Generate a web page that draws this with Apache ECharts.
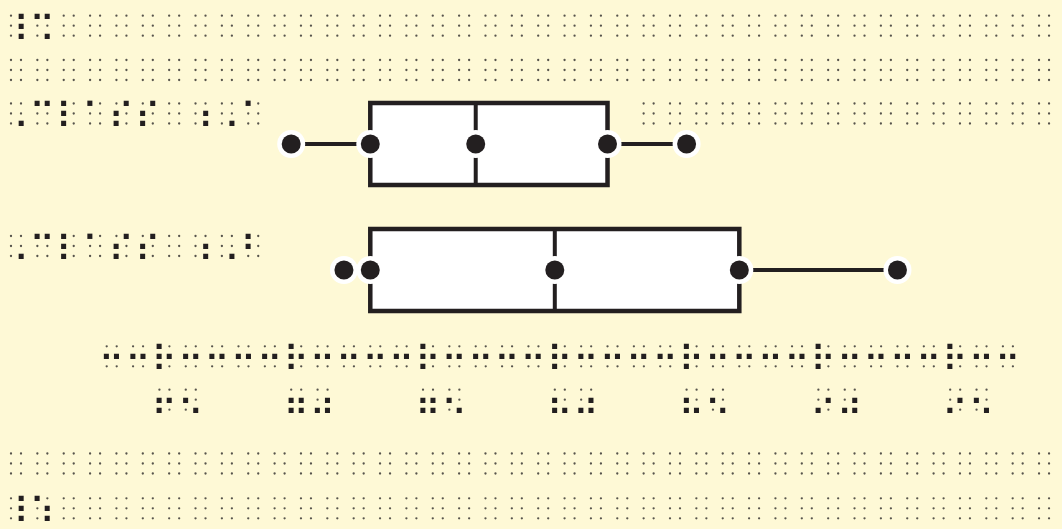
<!DOCTYPE html>
<html>
<head>
<meta charset="utf-8">
<script src="https://cdn.jsdelivr.net/npm/echarts/dist/echarts.min.js"></script>
<style>
html, body { margin: 0; padding: 0; background: #fef9d6; }
#main { width: 1062px; height: 529px; }
</style>
</head>
<body>
<div id="main"></div>
<script>
// braille text as in the reference (UEB labels, Nemeth numbers)
var classNames = ['⠠⠉⠇⠁⠎⠎⠀⠰⠠⠁', '⠠⠉⠇⠁⠎⠎⠀⠰⠠⠃'];
// five number summary: min, Q1, median, Q3, max
var classA = [70, 73, 77, 82, 85];
var classB = [72, 73, 80, 87, 93];
var tickValues = [65, 70, 75, 80, 85, 90, 95];
var tickLabels = ['⠖⠢', '⠶⠴', '⠶⠢', '⠦⠴', '⠦⠢', '⠔⠴', '⠔⠢'];
var topLine = '⠸⠩';
var bottomLine = '⠸⠱';

var PITCH = 26.36;   // braille cell width
var DOT = 10;        // dot spacing inside a cell
var INK = '#231f20';
var FAINT = '#57544c';

var chart = echarts.init(document.getElementById('main'));

chart.setOption({
  backgroundColor: '#fef9d6',
  animation: false,
  grid: { left: 106.7, right: 59.1, top: 81, height: 252 },
  xAxis: { type: 'value', min: 63, max: 97, show: false },
  yAxis: { type: 'category', data: classNames, inverse: true, show: false },
  series: [{
    type: 'custom',
    data: [[0].concat(classA), [1].concat(classB)],
    encode: { x: [1, 2, 3, 4, 5], y: 0 },
    renderItem: function (params, api) {
      var cat = api.value(0);
      var xs = [1, 2, 3, 4, 5].map(function (i) {
        return api.coord([api.value(i), cat])[0];
      });
      var cy = api.coord([api.value(1), cat])[1];
      var half = api.size([0, 1])[1] * 0.325;
      var kids = [
        { type: 'line', shape: { x1: xs[0], y1: cy, x2: xs[1], y2: cy }, style: { stroke: INK, lineWidth: 4 } },
        { type: 'line', shape: { x1: xs[3], y1: cy, x2: xs[4], y2: cy }, style: { stroke: INK, lineWidth: 4 } },
        { type: 'rect', shape: { x: xs[1], y: cy - half, width: xs[3] - xs[1], height: half * 2 },
          style: { fill: '#fff', stroke: INK, lineWidth: 4.5 } },
        { type: 'line', shape: { x1: xs[2], y1: cy - half, x2: xs[2], y2: cy + half }, style: { stroke: INK, lineWidth: 4 } }
      ];
      xs.forEach(function (x) {
        kids.push({ type: 'circle', shape: { cx: x, cy: cy, r: 14 }, style: { fill: '#fff' } });
      });
      xs.forEach(function (x) {
        kids.push({ type: 'circle', shape: { cx: x, cy: cy, r: 9.5 }, style: { fill: INK } });
      });
      return { type: 'group', children: kids };
    }
  }]
});

// measure where DejaVu Sans puts the braille dots so the glyphs sit on the cell grid
var glyph = (function () {
  var S = 100;
  var ctx = document.createElement('canvas').getContext('2d');
  ctx.font = S + 'px "DejaVu Sans"';
  ctx.textAlign = 'left';
  ctx.textBaseline = 'middle';
  function bb(ch) {
    var m = ctx.measureText(ch);
    return { l: -m.actualBoundingBoxLeft, r: m.actualBoundingBoxRight,
             t: -m.actualBoundingBoxAscent, b: m.actualBoundingBoxDescent };
  }
  var one = bb('⠁'), full = bb('⠿');
  var d = one.r - one.l;
  var hs = (full.r - full.l) - d;                      // column to column
  var vs = ((full.b - full.t) - (one.b - one.t)) / 2;  // row to row
  if (!(hs > 0 && vs > 0)) {
    return { size: 40, sx: 1, ox: 0, oy: -12, lw: 0 };
  }
  var k = DOT / vs;
  var sx = DOT / (hs * k);
  var dotNow = d * k;
  return {
    size: S * k,
    sx: sx,
    ox: (one.l + one.r) / 2 * k * sx,
    oy: (one.t + one.b) / 2 * k,
    lw: Math.max(0, 5.6 - dotNow)
  };
})();

function addCell(out, x, y, ch) {
  var bits = ch.charCodeAt(0) - 0x2800;
  for (var d = 0; d < 6; d++) {
    if (bits & (1 << d)) continue;
    out.push({ type: 'circle', silent: true,
      shape: { cx: x + (d >= 3 ? DOT : 0), cy: y + (d % 3) * DOT, r: 1.15 },
      style: { fill: FAINT } });
  }
  if (bits) {
    out.push({ type: 'text', silent: true, z: 10,
      x: x - glyph.ox, y: y - glyph.oy, scaleX: glyph.sx,
      style: { text: ch, fill: INK, stroke: INK, lineWidth: glyph.lw, lineJoin: 'round',
        font: glyph.size.toFixed(2) + 'px "DejaVu Sans"',
        align: 'left', verticalAlign: 'middle',
        textAlign: 'left', textVerticalAlign: 'middle' } });
  }
}

function addLine(out, x0, y, str) {
  Array.from(str).forEach(function (ch, i) {
    addCell(out, x0 + i * PITCH, y, ch);
  });
}

function blanks(n) { return new Array(n + 1).join('\u2800'); }

var els = [];
var pageX = 11;
addLine(els, pageX, 15.7, topLine + blanks(38));
addLine(els, pageX, 60, blanks(40));
addLine(els, pageX, 103.5, classNames[0]);
addLine(els, pageX + 24 * PITCH, 103.5, blanks(16));
addLine(els, pageX, 236, classNames[1]);
addLine(els, pageX, 453.5, blanks(40));
addLine(els, pageX, 498.3, bottomLine + blanks(38));

// braille axis line: one cell per unit, tick cell every 5
for (var v = 63; v <= 97; v++) {
  var px = chart.convertToPixel({ xAxisIndex: 0 }, v);
  addCell(els, px, 346.3, v % 5 === 0 ? '⠗' : '⠒');
}
tickValues.forEach(function (t, i) {
  var px = chart.convertToPixel({ xAxisIndex: 0 }, t);
  addLine(els, px, 389.7, tickLabels[i]);
});

chart.setOption({ graphic: els });
</script>
</body>
</html>
